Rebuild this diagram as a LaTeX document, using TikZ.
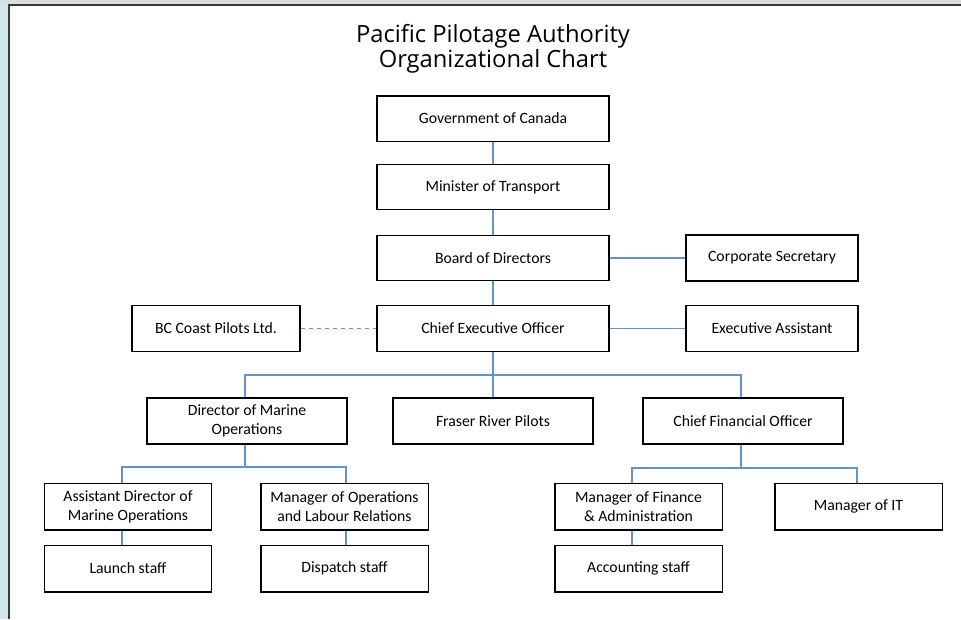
\documentclass[tikz,border=0pt]{standalone}
\usepackage{fontspec}
\setmainfont{Carlito}
\newfontfamily\titlefont{Open Sans}
\definecolor{conn}{HTML}{6393CE}
\definecolor{sideblue}{HTML}{D4E7ED}
\definecolor{topgray}{HTML}{D9DDDE}
\definecolor{frame}{HTML}{3A3A3A}
\begin{document}
\begin{tikzpicture}[x=0.75pt,y=-0.75pt,
  box/.style={draw=black,line width=1pt,fill=white,align=center,inner sep=0pt,
    font=\fontsize{11.8}{14.2}\selectfont},
  wide/.style={box,minimum width=174pt,minimum height=34pt},
  side/.style={box,minimum width=129pt,minimum height=34.5pt},
  mid/.style={box,minimum width=150pt,minimum height=34.5pt},
  low/.style={box,minimum width=125.5pt,minimum height=35pt},
  link/.style={draw=conn,line width=0.85pt},
  dlink/.style={link,dash pattern=on 3.5pt off 2.5pt}]
\useasboundingbox (0,0) rectangle (961,619);
% background
\fill[sideblue] (0,0) rectangle (961,619);
\fill[topgray] (0,0) rectangle (961,4);
\fill[white] (8,4) rectangle (961,619);
\draw[frame,line width=1.5pt] (8.5,619) -- (8.5,4.5) -- (961,4.5);
% title
\node[font=\titlefont\fontsize{17.8}{18.9}\selectfont,align=center] (title) at (493,49)
  {Pacific Pilotage Authority\\Organizational Chart};
% nodes
\node[wide] (gov) at (493,118.5) {Government of Canada};
\node[wide] (min) at (493,187) {Minister of Transport};
\node[wide] (board) at (493,258) {Board of Directors};
\node[side] (corp) at (772,258) {Corporate Secretary};
\node[wide,minimum height=34.5pt] (ceo) at (493,328.5) {Chief Executive Officer};
\node[box,minimum width=126pt,minimum height=34.5pt] (bc) at (216,328.5) {BC Coast Pilots Ltd.};
\node[side] (exec) at (772,328.5) {Executive Assistant};
\node[mid] (dmo) at (247,421) {Director of Marine\\Operations};
\node[mid] (frp) at (493,421) {Fraser River Pilots};
\node[mid] (cfo) at (743,421) {Chief Financial Officer};
\node[low] (ad) at (128,506.5) {Assistant Director of\\Marine Operations};
\node[low] (mops) at (344.5,506.5) {Manager of Operations\\and Labour Relations};
\node[low] (mf) at (638.5,506.5) {Manager of Finance\\\&~Administration};
\node[low] (it) at (858.5,506.5) {Manager of IT};
\node[low] (launch) at (128,568.5) {Launch staff};
\node[low] (disp) at (344.5,568.5) {Dispatch staff};
\node[low] (acc) at (638.5,568.5) {Accounting staff};
% helper coordinates
\coordinate (xdmo) at (245,0);
\coordinate (xcfo) at (741,0);
\coordinate (xad) at (122,0);
\coordinate (xmops) at (346,0);
\coordinate (xmf) at (632,0);
\coordinate (xit) at (857,0);
\coordinate (busA) at (493,375);
\coordinate (busB) at (245,467);
\coordinate (busC) at (741,468);
% connectors
\draw[link] (gov) -- (min);
\draw[link] (min) -- (board);
\draw[link] (board) -- (ceo);
\draw[link] (board) -- (corp);
\draw[link] (ceo) -- (exec);
\draw[dlink] (bc) -- (ceo);
\draw[link] (ceo) -- (busA);
\draw[link] (dmo.north -| xdmo) |- (busA) -| (cfo.north -| xcfo);
\draw[link] (busA) -- (frp);
\draw[link] (dmo.south -| xdmo) -- (busB);
\draw[link] (ad.north -| xad) |- (busB) -| (mops.north -| xmops);
\draw[link] (cfo.south -| xcfo) -- (busC);
\draw[link] (mf.north -| xmf) |- (busC) -| (it.north -| xit);
\draw[link] (ad.south -| xad) -- (launch.north -| xad);
\draw[link] (mops.south -| xmops) -- (disp.north -| xmops);
\draw[link] (mf.south -| xmf) -- (acc.north -| xmf);
\end{tikzpicture}
\end{document}
